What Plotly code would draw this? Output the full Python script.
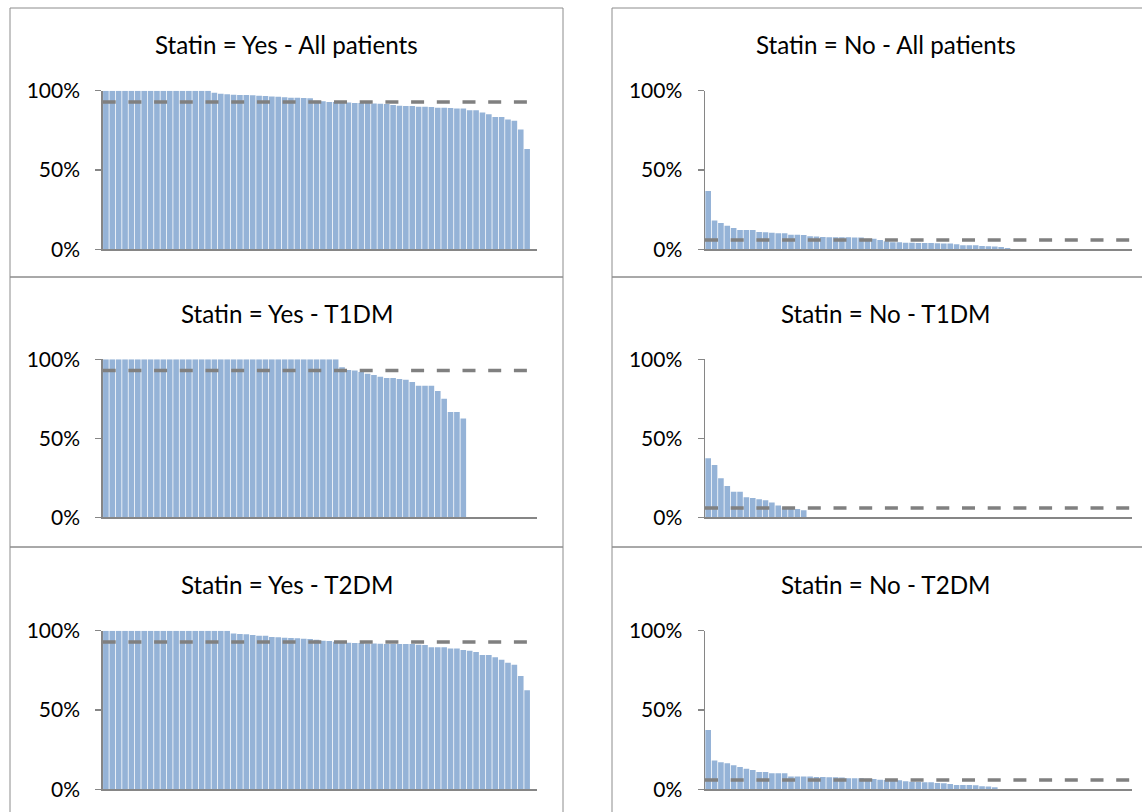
import plotly.graph_objects as go

# ---------------- data (percent of patients, sorted per panel) ----------------
yes_all = [100, 100, 100, 100, 100, 100, 100, 100, 100, 100, 100, 100, 100, 100, 100, 100, 100,
           98.7, 98.1, 97.7, 97.5, 97.3, 97.3, 97.1, 96.8, 96.6, 96.4, 96.2, 95.8, 95.6, 95.6,
           95.4, 95.2, 93.7, 93.3, 92.9, 92.9, 92.6, 92.6, 92.2, 92.2, 92.2, 92.0, 91.8, 91.6,
           91.0, 90.5, 90.3, 90.3, 89.9, 89.9, 89.7, 89.3, 89.3, 89.1, 88.7, 88.7, 87.6, 87.6,
           86.3, 85.1, 83.4, 83.4, 81.9, 81.1, 75.6, 63.2]
no_all = [36.8, 18.1, 16.6, 14.9, 13.4, 12.2, 12.2, 12.2, 10.9, 10.7, 10.5, 10.1, 10.1, 9.2,
          9.2, 9.0, 8.2, 8.0, 7.8, 7.6, 7.6, 7.6, 7.6, 7.4, 7.4, 6.7, 6.7, 5.9, 5.0, 4.4, 4.4,
          4.2, 4.2, 4.0, 4.0, 4.0, 3.8, 3.6, 3.6, 3.2, 2.5, 2.5, 2.5, 2.1, 1.9, 1.7, 1.5, 0.8]
yes_t1dm = [100, 100, 100, 100, 100, 100, 100, 100, 100, 100, 100, 100, 100, 100, 100, 100,
            100, 100, 100, 100, 100, 100, 100, 100, 100, 100, 100, 100, 100, 100, 100, 100,
            100, 100, 100, 100, 100,
            95.0, 93.3, 92.9, 92.0, 90.9, 90.0, 88.9, 88.2, 88.2, 87.5, 87.0, 85.7, 83.3, 83.3,
            83.3, 80.0, 75.0, 66.7, 66.7, 62.5]
no_t1dm = [37.3, 33.1, 24.7, 19.8, 16.2, 16.2, 12.7, 12.2, 11.4, 10.8, 9.3, 7.4, 6.1, 5.7,
           5.3, 4.4]
yes_t2dm = [100, 100, 100, 100, 100, 100, 100, 100, 100, 100, 100, 100, 100, 100, 100, 100,
            100, 100, 100, 100,
            98.3, 97.9, 97.7, 97.3, 96.8, 96.8, 96.0, 95.8, 95.6, 95.4, 95.2, 95.0, 94.7, 94.3,
            93.7, 93.5, 93.1, 92.9, 92.4, 92.2, 92.2, 92.0, 92.0, 91.8, 91.6, 91.6, 91.6, 91.6,
            91.6, 91.2, 91.0, 89.5, 89.5, 89.5, 88.7, 88.7, 87.8, 87.4, 86.6, 84.7, 84.7, 83.2,
            81.7, 79.8, 78.6, 71.4, 62.4]
no_t2dm = [37.4, 18.1, 17.0, 16.4, 15.1, 14.1, 13.0, 12.2, 10.9, 10.9, 10.1, 10.1, 10.1, 8.0,
           8.0, 8.0, 8.0, 7.8, 7.8, 7.6, 7.6, 7.4, 6.9, 6.9, 6.9, 6.7, 6.5, 6.1, 5.9, 5.7, 5.7,
           5.0, 4.8, 4.6, 4.4, 4.4, 4.0, 3.8, 3.4, 2.7, 2.7, 2.7, 2.5, 1.9, 1.7, 1.3]

target_yes = 92.9
target_no = 5.9

titles = ["Statin = Yes - All patients", "Statin = No - All patients",
          "Statin = Yes - T1DM", "Statin = No - T1DM",
          "Statin = Yes - T2DM", "Statin = No - T2DM"]
tick_vals = [0, 50, 100]
tick_text = ["0%", "50%", "100%"]

# ---------------- layout geometry (pixels) ----------------
W, H = 1142, 812
FONT = "Lato"
BAR = "#95B3D7"
GREY = "#868686"
DASH = "#808080"

col_x = [(102.7, 536.7), (705.0, 1131.7)]
col_ncat = [68, 67]
row_y = [(90.7, 249.3), (359.3, 517.3), (630.7, 789.3)]
title_y = [45, 313, 584]
title_x = [286.5, 885.5]
box_x = [(10, 563), (612, 1165)]
box_y = [(8, 277), (277, 547), (547, 830)]

panels = [
    (yes_all, target_yes), (no_all, target_no),
    (yes_t1dm, target_yes), (no_t1dm, target_no),
    (yes_t2dm, target_yes), (no_t2dm, target_no),
]


def px(x):
    return x / W


def py(y):
    return 1 - y / H


fig = go.Figure()
layout = dict(
    width=W, height=H, margin=dict(l=0, r=0, t=0, b=0, autoexpand=False),
    paper_bgcolor="white", plot_bgcolor="white", showlegend=False,
    font=dict(family=FONT, color="black"),
)
annotations = []
shapes = []

for i, ((vals, target), title) in enumerate(zip(panels, titles)):
    r, c = divmod(i, 2)
    n = i + 1
    xk = "xaxis" if n == 1 else f"xaxis{n}"
    yk = "yaxis" if n == 1 else f"yaxis{n}"
    xr = "x" if n == 1 else f"x{n}"
    yr = "y" if n == 1 else f"y{n}"
    ncat = col_ncat[c]
    fig.add_trace(go.Bar(x=list(range(len(vals))), y=vals, xaxis=xr, yaxis=yr,
                         marker=dict(color=BAR, line=dict(width=0)), width=0.88,
                         hoverinfo="skip"))
    fig.add_trace(go.Scatter(x=[-0.5, ncat - 0.5], y=[target, target], xaxis=xr, yaxis=yr,
                             mode="lines", hoverinfo="skip",
                             line=dict(color=DASH, width=3.6, dash="13px,12.7px")))
    x0, x1 = col_x[c]
    y0, y1 = row_y[r]
    layout[xk] = dict(domain=[px(x0), px(x1)], anchor=yr, range=[-0.5, ncat - 0.5],
                      showticklabels=False, ticks="", showgrid=False, zeroline=False,
                      showline=True, linecolor=GREY, linewidth=1.5, fixedrange=True,
                      automargin=False)
    layout[yk] = dict(domain=[py(y1), py(y0)], anchor=xr, range=[0, 100],
                      tickvals=tick_vals, ticktext=tick_text, ticks="outside", ticklen=6,
                      tickcolor=GREY, tickwidth=1.5, showgrid=False, zeroline=False,
                      showline=True, linecolor=GREY, linewidth=1.5,
                      tickfont=dict(family=FONT, size=21, color="black"),
                      ticklabelstandoff=11, fixedrange=True, automargin=False)
    annotations.append(dict(text=title, x=px(title_x[c]), y=py(title_y[r]),
                            xref="paper", yref="paper", showarrow=False,
                            xanchor="center", yanchor="middle",
                            font=dict(family=FONT, size=24.2, color="black")))
    bx0, bx1 = box_x[c]
    by0, by1 = box_y[r]
    shapes.append(dict(type="rect", xref="paper", yref="paper",
                       x0=px(bx0), x1=px(bx1), y0=py(by1), y1=py(by0),
                       line=dict(color="#8C8C8C", width=1), fillcolor="rgba(0,0,0,0)",
                       layer="below"))

layout["annotations"] = annotations
layout["shapes"] = shapes
fig.update_layout(**layout)
fig.write_html("out.html", config={"displayModeBar": False, "staticPlot": True},
               post_script="document.body.style.margin='0';"
                           "document.body.style.overflow='hidden';")
